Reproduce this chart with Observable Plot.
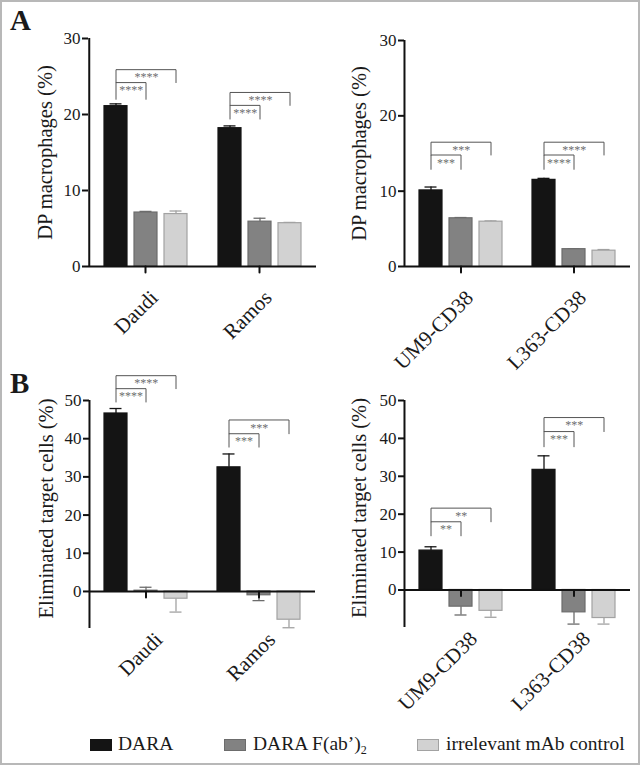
<!DOCTYPE html>
<html>
<head>
<meta charset="utf-8">
<script src="https://cdn.jsdelivr.net/npm/d3@7"></script>
<script src="https://cdn.jsdelivr.net/npm/@observablehq/plot@0.6"></script>
<style>
  body { margin: 0; background: #fff; }
  #fig { position: relative; width: 640px; height: 765px; overflow: hidden; background: #fff;
         font-family: "Liberation Serif", "Times New Roman", serif; color: #1a1a1a; }
  .panel { position: absolute; }
  .panel text { font-family: "Liberation Serif", "Times New Roman", serif; }
  .letter { position: absolute; font-weight: bold; font-size: 29px; line-height: 1; }
  .sw { position: absolute; width: 22px; height: 12px; box-sizing: border-box; border: 1px solid; }
  .lt { position: absolute; font-family: "Liberation Serif", serif; font-size: 19.5px; line-height: 20px; white-space: nowrap; }
  .lt sub { font-size: 12px; vertical-align: -4px; line-height: 0; }
  #frame { position: absolute; left: 0; top: 0; width: 640px; height: 765px; box-sizing: border-box;
           border: 2px solid #b8b8b8; pointer-events: none; }
</style>
</head>
<body>
<div id="fig">
  <div class="letter" style="left:10px;top:6px;">A</div>
  <div class="letter" style="left:10px;top:369px;">B</div>
  <div id="legend"></div>
  <div id="frame"></div>
</div>
<script>
// ---------- data ----------
const seriesNames = ["DARA", "DARA F(ab')2", "irrelevant mAb control"];
const seriesFill = ["#141414", "#828282", "#d2d2d2"];
const seriesStroke = ["#141414", "#6c6c6c", "#a2a2a2"];

const groupsLeft = ["Daudi", "Ramos"];
const groupsRight = ["UM9-CD38", "L363-CD38"];

// A: DP macrophages (%) — rows per group: DARA, DARA F(ab')2, irrelevant
const dpLeft = [[21.1, 7.1, 6.9], [18.2, 5.9, 5.7]];
const dpLeftErr = [[0.3, 0.15, 0.4], [0.3, 0.45, 0.1]];
const dpRight = [[10.1, 6.4, 5.95], [11.5, 2.3, 2.1]];
const dpRightErr = [[0.45, 0.1, 0.1], [0.2, 0.05, 0.15]];

// B: Eliminated target cells (%)
const elimLeft = [[46.6, 0.2, -1.9], [32.5, -1.0, -7.4]];
const elimLeftErr = [[1.3, 0.9, 3.5], [3.5, 1.4, 2.1]];
const elimRight = [[10.4, -4.4, -5.5], [31.7, -5.9, -7.4]];
const elimRightErr = [[1.0, 2.2, 1.7], [3.7, 3.1, 1.6]];

// significance brackets: [group, compared series index, line level, leg end, label]
const sigDpLeft = [
  ["Daudi", 1, 24.2, 22.0, "****"], ["Daudi", 2, 25.9, 24.2, "****"],
  ["Ramos", 1, 21.2, 19.4, "****"], ["Ramos", 2, 22.9, 21.2, "****"]
];
const sigDpRight = [
  ["UM9-CD38", 1, 14.8, 12.9, "***"], ["UM9-CD38", 2, 16.5, 14.8, "***"],
  ["L363-CD38", 1, 14.8, 12.9, "****"], ["L363-CD38", 2, 16.5, 14.8, "****"]
];
const sigElimLeft = [
  ["Daudi", 1, 53.1, 49.6, "****"], ["Daudi", 2, 56.5, 53.1, "****"],
  ["Ramos", 1, 41.3, 37.8, "***"], ["Ramos", 2, 44.9, 41.3, "***"]
];
const sigElimRight = [
  ["UM9-CD38", 1, 18.0, 14.3, "**"], ["UM9-CD38", 2, 21.6, 18.0, "**"],
  ["L363-CD38", 1, 41.8, 37.8, "***"], ["L363-CD38", 2, 45.5, 41.8, "***"]
];

const yTicksA = [0, 10, 20, 30];
const yTicksB = [0, 10, 20, 30, 40, 50];
const yLabelA = "DP macrophages (%)";
const yLabelB = "Eliminated target cells (%)";

// ---------- drawing ----------
const PI = 0.246, PO = 0.5;
const SERIF = "Liberation Serif, Times New Roman, serif";
const tickShape = { draw(ctx, l) { ctx.moveTo(0, 0); ctx.lineTo(0, -l); } };

function panel(cfg) {
  const rows = [];
  cfg.groups.forEach((g, gi) => seriesNames.forEach((s, si) => {
    const v = cfg.values[gi][si], e = cfg.errs[gi][si];
    rows.push({ group: g, series: s, si, value: v, end: v + (v < 0 ? -e : e) });
  }));
  const pts = [];
  cfg.sig.forEach(([g, to, top, bottom, label], k) => {
    const a = seriesNames[0], b = seriesNames[to];
    pts.push({ id: k, group: g, x: a, y: bottom }, { id: k, group: g, x: a, y: top },
             { id: k, group: g, x: b, y: top }, { id: k, group: g, x: b, y: bottom });
  });
  const sigRows = cfg.sig.map(([g, to, top, bottom, label]) => ({ group: g, span: to, top, label }));
  const facetW = (cfg.width - cfg.marginLeft - cfg.marginRight) / cfg.groups.length;
  const step = facetW / (seriesNames.length - PI + 2 * PO);
  const groupRows = cfg.groups.map(g => ({ group: g }));
  const errStroke = d => seriesStroke[d.si];
  const first = () => cfg.groups[0];

  return Plot.plot({
    width: cfg.width, height: cfg.height,
    marginLeft: cfg.marginLeft, marginRight: cfg.marginRight,
    marginTop: cfg.marginTop, marginBottom: cfg.marginBottom,
    style: { fontFamily: SERIF, fontSize: "17px",
             color: "#1a1a1a", background: "transparent", overflow: "visible" },
    fx: { domain: cfg.groups, padding: 0, axis: null, label: null },
    x: { domain: seriesNames, paddingInner: PI, paddingOuter: PO, axis: null, label: null },
    y: { domain: cfg.yDomain, axis: null, label: null },
    marks: [
      Plot.ruleX(rows, { fx: "group", x: "series", y1: "value", y2: "end", stroke: errStroke, strokeWidth: 1.3 }),
      Plot.tickY(rows, { fx: "group", x: "series", y: "end", stroke: errStroke, strokeWidth: 1.3, insetLeft: 5.5, insetRight: 5.5 }),
      Plot.barY(rows, { fx: "group", x: "series", y1: () => 0, y2: "value",
                        fill: d => seriesFill[d.si], stroke: d => seriesStroke[d.si], strokeWidth: 1.2 }),
      Plot.ruleY([0], { stroke: "#111", strokeWidth: 2 }),
      Plot.vector(groupRows, { fx: "group", y: () => 0, length: 6, rotate: 180, anchor: "start",
                               shape: tickShape, stroke: "#111", strokeWidth: 2 }),
      // y axis line along the left edge of the first group
      Plot.ruleX([cfg.yDomain], { fx: first, x: () => seriesNames[0], y1: d => d[0], y2: d => d[1],
                                  dx: -(PO * step + (1 - PI) * step / 2), stroke: "#111", strokeWidth: 2 }),
      Plot.axisY({ ticks: cfg.yTicks, tickSize: 6, tickPadding: 2, strokeWidth: 2,
                   fontSize: 17, fontFamily: SERIF, label: null, stroke: "#111", fill: "#1a1a1a" }),
      Plot.line(pts, { fx: "group", x: "x", y: "y", z: "id", stroke: "#555", strokeWidth: 1 }),
      Plot.text(sigRows.filter(d => d.span === 1), { fx: "group", x: () => seriesNames[0], y: "top", text: "label",
                dx: step / 2, dy: 3, lineAnchor: "top", fontSize: 12, fill: "#6e6e6e" }),
      Plot.text(sigRows.filter(d => d.span === 2), { fx: "group", x: () => seriesNames[0], y: "top", text: "label",
                dx: step, dy: 3, lineAnchor: "top", fontSize: 12, fill: "#6e6e6e" }),
      Plot.text(groupRows, { fx: "group", text: "group", frameAnchor: "bottom", rotate: -45,
                             textAnchor: "end", lineAnchor: "top",
                             dx: cfg.labelDx, dy: cfg.labelDy, fontSize: 21, fill: "#1a1a1a" }),
      Plot.text([cfg.yLabel], { fx: first, text: d => d, frameAnchor: "left", rotate: -90,
                                textAnchor: "middle", lineAnchor: "middle",
                                dx: cfg.yLabelDx, dy: cfg.yLabelDy, fontSize: 20.5, fill: "#1a1a1a" })
    ]
  });
}

const fig = document.getElementById("fig");
function place(node, left, top) {
  node.classList.add("panel");
  node.style.left = left + "px"; node.style.top = top + "px";
  fig.insertBefore(node, document.getElementById("legend"));
}

place(panel({ groups: groupsLeft, values: dpLeft, errs: dpLeftErr, sig: sigDpLeft, yDomain: [0, 30], yTicks: yTicksA,
  yLabel: yLabelA, width: 320, height: 340, marginLeft: 87, marginRight: 4, marginTop: 38, marginBottom: 74,
  labelDx: 3, labelDy: 22, yLabelDx: -43, yLabelDy: 0 }), 0, 0);
place(panel({ groups: groupsRight, values: dpRight, errs: dpRightErr, sig: sigDpRight, yDomain: [0, 30], yTicks: yTicksA,
  yLabel: yLabelA, width: 320, height: 340, marginLeft: 83, marginRight: 10, marginTop: 40, marginBottom: 74,
  labelDx: 3, labelDy: 22, yLabelDx: -45, yLabelDy: 0 }), 320, 0);
place(panel({ groups: groupsLeft, values: elimLeft, errs: elimLeftErr, sig: sigElimLeft, yDomain: [-9.7, 50], yTicks: yTicksB,
  yLabel: yLabelB, width: 320, height: 370, marginLeft: 88, marginRight: 5, marginTop: 60, marginBottom: 82,
  labelDx: 7, labelDy: 2, yLabelDx: -43, yLabelDy: -6 }), 0, 340);
place(panel({ groups: groupsRight, values: elimRight, errs: elimRightErr, sig: sigElimRight, yDomain: [-9.9, 50], yTicks: yTicksB,
  yLabel: yLabelB, width: 320, height: 370, marginLeft: 83, marginRight: 10, marginTop: 60, marginBottom: 83,
  labelDx: 7, labelDy: 2, yLabelDx: -45, yLabelDy: -6 }), 320, 340);

// legend
const legend = document.getElementById("legend");
const legendPos = [[90, 118], [224, 253], [417, 446]];
const legendHtml = ["DARA", "DARA F(ab&rsquo;)<sub>2</sub>", "irrelevant mAb control"];
seriesNames.forEach((s, i) => {
  const sw = document.createElement("div");
  sw.className = "sw";
  sw.style.left = legendPos[i][0] + "px"; sw.style.top = "739px";
  sw.style.background = seriesFill[i]; sw.style.borderColor = seriesStroke[i];
  legend.appendChild(sw);
  const t = document.createElement("div");
  t.className = "lt";
  t.style.left = legendPos[i][1] + "px"; t.style.top = "734px";
  t.innerHTML = legendHtml[i];
  legend.appendChild(t);
});
</script>
</body>
</html>
